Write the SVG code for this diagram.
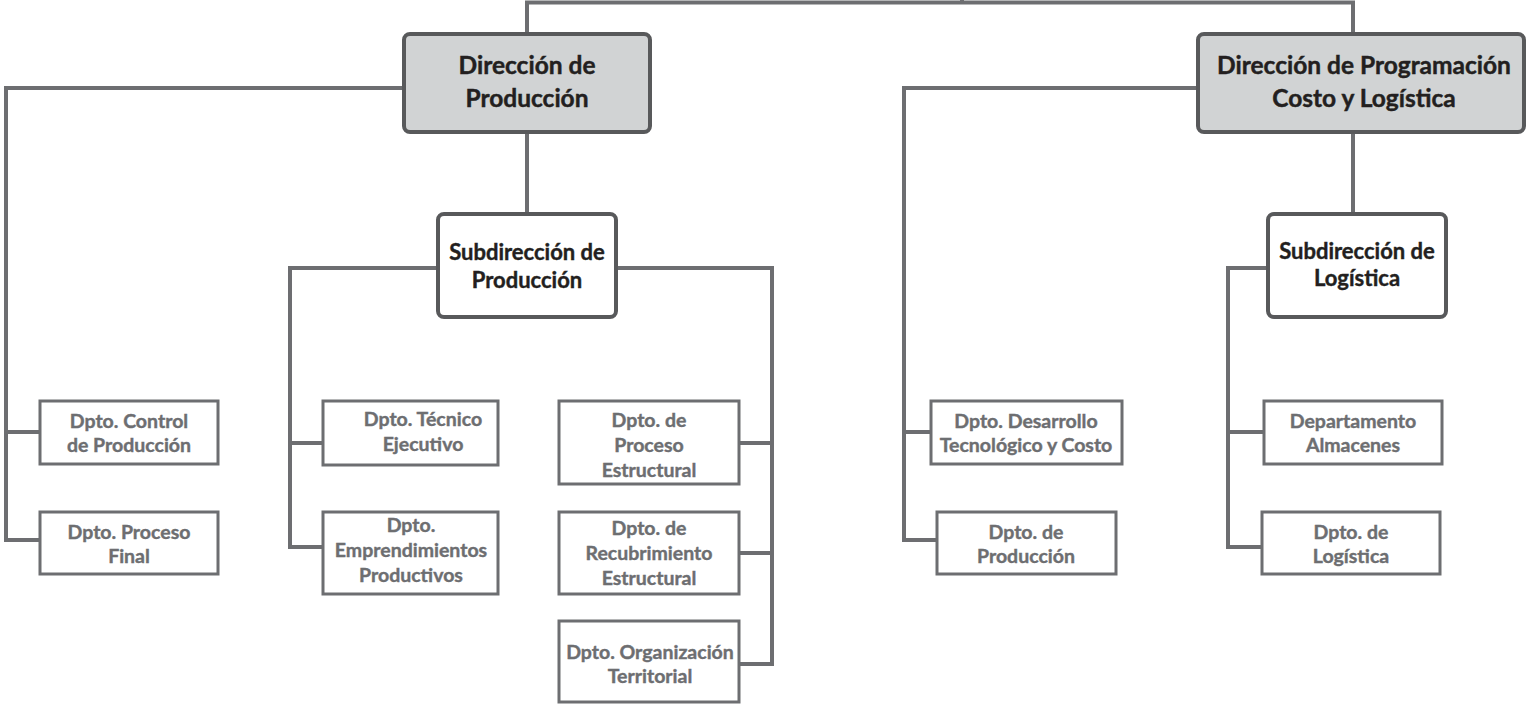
<svg xmlns="http://www.w3.org/2000/svg" width="1526" height="704" viewBox="0 0 1526 704">
<style>
.conn{fill:none;stroke:#6d6e71;stroke-width:4;stroke-linejoin:miter}
.main{fill:#d1d3d4;stroke:#58595b;stroke-width:4}
.sub{fill:#ffffff;stroke:#58595b;stroke-width:4}
.dept{fill:#ffffff;stroke:#6d6e71;stroke-width:3}
.tm{font-family:Lato,"Open Sans","Liberation Sans",sans-serif;font-weight:bold;font-size:24.5px;fill:#231f20;stroke:#231f20;stroke-width:0.45;text-anchor:middle}
.ts{font-family:Lato,"Open Sans","Liberation Sans",sans-serif;font-weight:bold;font-size:22px;fill:#231f20;stroke:#231f20;stroke-width:0.4;text-anchor:middle}
.td{font-family:Lato,"Open Sans","Liberation Sans",sans-serif;font-weight:bold;font-size:19.5px;fill:#6d6e71;stroke:#6d6e71;stroke-width:0.4;text-anchor:middle}
</style>
<rect width="1526" height="704" fill="#ffffff"/>
<g id="connectors">
<path class="conn" d="M527,34 V2.5 H1353 V34"/>
<path class="conn" d="M962,0 V2.5"/>
<path class="conn" d="M404,88 H6 V540 H40"/>
<path class="conn" d="M6,432 H40"/>
<path class="conn" d="M527,132 V214"/>
<path class="conn" d="M438,268 H290 V547 H323"/>
<path class="conn" d="M290,443 H323"/>
<path class="conn" d="M616,268 H772 V664 H739"/>
<path class="conn" d="M772,443 H739"/>
<path class="conn" d="M772,553 H739"/>
<path class="conn" d="M1198,88 H904 V540 H937"/>
<path class="conn" d="M904,432 H931"/>
<path class="conn" d="M1353,132 V214"/>
<path class="conn" d="M1268,268 H1228 V547 H1262"/>
<path class="conn" d="M1228,432 H1264"/>
</g>
<g id="dir-produccion">
<rect class="main" x="404" y="34" width="246" height="98" rx="6"/>
<text class="tm" x="527" y="74">Dirección de</text>
<text class="tm" x="527" y="107">Producción</text>
</g>
<g id="dir-programacion">
<rect class="main" x="1198" y="34" width="326" height="98" rx="6"/>
<text class="tm" x="1364" y="74">Dirección de Programación</text>
<text class="tm" x="1364" y="107">Costo y Logística</text>
</g>
<g id="sub-produccion">
<rect class="sub" x="438" y="214" width="178" height="103" rx="6"/>
<text class="ts" x="527" y="260">Subdirección de</text>
<text class="ts" x="527" y="288">Producción</text>
</g>
<g id="sub-logistica">
<rect class="sub" x="1268" y="214" width="178" height="103" rx="6"/>
<text class="ts" x="1357" y="259">Subdirección de</text>
<text class="ts" x="1357" y="286">Logística</text>
</g>
<g id="dpto-control">
<rect class="dept" x="40" y="401" width="178" height="63"/>
<text class="td" x="129" y="428">Dpto. Control</text>
<text class="td" x="129" y="452">de Producción</text>
</g>
<g id="dpto-proceso-final">
<rect class="dept" x="40" y="512" width="178" height="62"/>
<text class="td" x="129" y="539">Dpto. Proceso</text>
<text class="td" x="129" y="563">Final</text>
</g>
<g id="dpto-tecnico">
<rect class="dept" x="323" y="401" width="175" height="64"/>
<text class="td" x="423" y="426">Dpto. Técnico</text>
<text class="td" x="423" y="451">Ejecutivo</text>
</g>
<g id="dpto-emprendimientos">
<rect class="dept" x="323" y="512" width="175" height="82"/>
<text class="td" x="411" y="532">Dpto.</text>
<text class="td" x="411" y="557">Emprendimientos</text>
<text class="td" x="411" y="582">Productivos</text>
</g>
<g id="dpto-proceso-estructural">
<rect class="dept" x="559" y="401" width="180" height="83"/>
<text class="td" x="649" y="427">Dpto. de</text>
<text class="td" x="649" y="452">Proceso</text>
<text class="td" x="649" y="477">Estructural</text>
</g>
<g id="dpto-recubrimiento">
<rect class="dept" x="559" y="512" width="180" height="82"/>
<text class="td" x="649" y="535">Dpto. de</text>
<text class="td" x="649" y="560">Recubrimiento</text>
<text class="td" x="649" y="585">Estructural</text>
</g>
<g id="dpto-organizacion">
<rect class="dept" x="559" y="621" width="180" height="81"/>
<text class="td" x="650" y="659">Dpto. Organización</text>
<text class="td" x="650" y="683">Territorial</text>
</g>
<g id="dpto-desarrollo">
<rect class="dept" x="931" y="401" width="191" height="63"/>
<text class="td" x="1026" y="428">Dpto. Desarrollo</text>
<text class="td" x="1026" y="452">Tecnológico y Costo</text>
</g>
<g id="dpto-produccion">
<rect class="dept" x="937" y="512" width="179" height="62"/>
<text class="td" x="1026" y="539">Dpto. de</text>
<text class="td" x="1026" y="563">Producción</text>
</g>
<g id="dpto-almacenes">
<rect class="dept" x="1264" y="401" width="178" height="63"/>
<text class="td" x="1353" y="428">Departamento</text>
<text class="td" x="1353" y="452">Almacenes</text>
</g>
<g id="dpto-logistica">
<rect class="dept" x="1262" y="512" width="178" height="62"/>
<text class="td" x="1351" y="539">Dpto. de</text>
<text class="td" x="1351" y="563">Logística</text>
</g>
</svg>
